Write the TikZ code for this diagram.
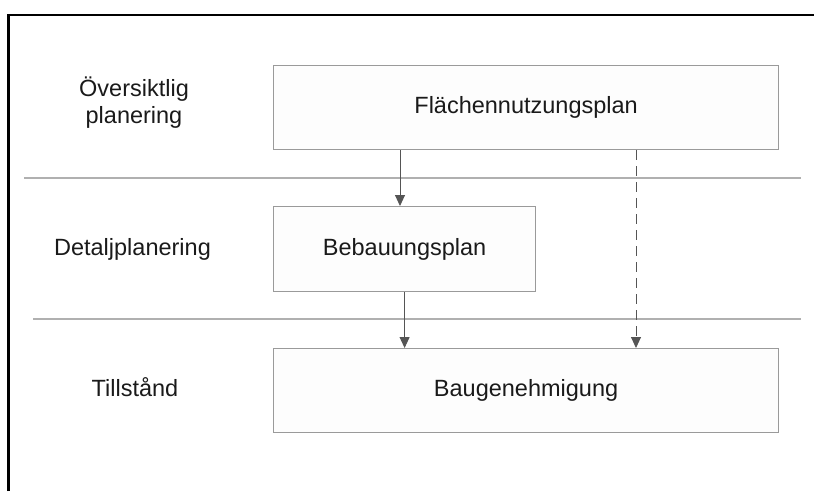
\documentclass[tikz,border=0pt]{standalone}
\usepackage{fontspec}
\setmainfont{Liberation Sans}
\usetikzlibrary{arrows.meta}
\definecolor{boxline}{HTML}{9A9A9A}
\definecolor{boxfill}{HTML}{FDFDFD}
\definecolor{rule}{HTML}{B0B0B0}
\definecolor{arrowc}{HTML}{555555}
\definecolor{txt}{HTML}{1A1A1A}
\tikzset{
  planbox/.style={draw=boxline, fill=boxfill, line width=1.2pt, inner sep=0pt,
    anchor=north west, font=\fontsize{23.5}{27}\selectfont, text=txt},
  levellabel/.style={font=\fontsize{23.5}{27}\selectfont, text=txt, align=center, inner sep=0pt},
  sep/.style={draw=rule, line width=1.3pt},
  flow/.style={draw=arrowc, line width=0.9pt, -{Triangle[length=11pt,width=10pt]}},
  flowdash/.style={flow, dash pattern=on 10pt off 6pt},
}
\begin{document}
\begin{tikzpicture}[x=1pt,y=-1pt]
  \useasboundingbox (0,0) rectangle (814,491);
  % frame on the left and top
  \draw[line width=2.2pt, black] (8.5,491) -- (8.5,15) -- (814,15);

  % level separators
  \coordinate (s1a) at (24,178);
  \coordinate (s1b) at (801,178);
  \coordinate (s2a) at (33,319);
  \coordinate (s2b) at (801,319);
  \draw[sep] (s1a) -- (s1b);
  \draw[sep] (s2a) -- (s2b);

  % level labels (base anchor sits on the last line)
  \node[levellabel, anchor=base] (lv1) at (134,123) {Översiktlig\\planering};
  \node[levellabel, anchor=base] (lv2) at (132.5,255) {Detaljplanering};
  \node[levellabel, anchor=base] (lv3) at (135,396) {Tillstånd};

  % plan boxes
  \node[planbox, minimum width=505pt, minimum height=84pt] (fnp) at (273,65) {Flächennutzungsplan};
  \node[planbox, minimum width=262pt, minimum height=85pt] (bp) at (273,206) {Bebauungsplan};
  \node[planbox, minimum width=505pt, minimum height=84pt] (bg) at (273,348) {Baugenehmigung};

  % connectors
  \coordinate (c1) at (400,0);
  \coordinate (c3) at (636,0);
  \draw[flow] (fnp.south -| c1) -- (bp.north -| c1);
  \draw[flow] (bp.south) -- (bg.north -| bp.south);
  \draw[flowdash] (fnp.south -| c3) -- (bg.north -| c3);
\end{tikzpicture}
\end{document}
